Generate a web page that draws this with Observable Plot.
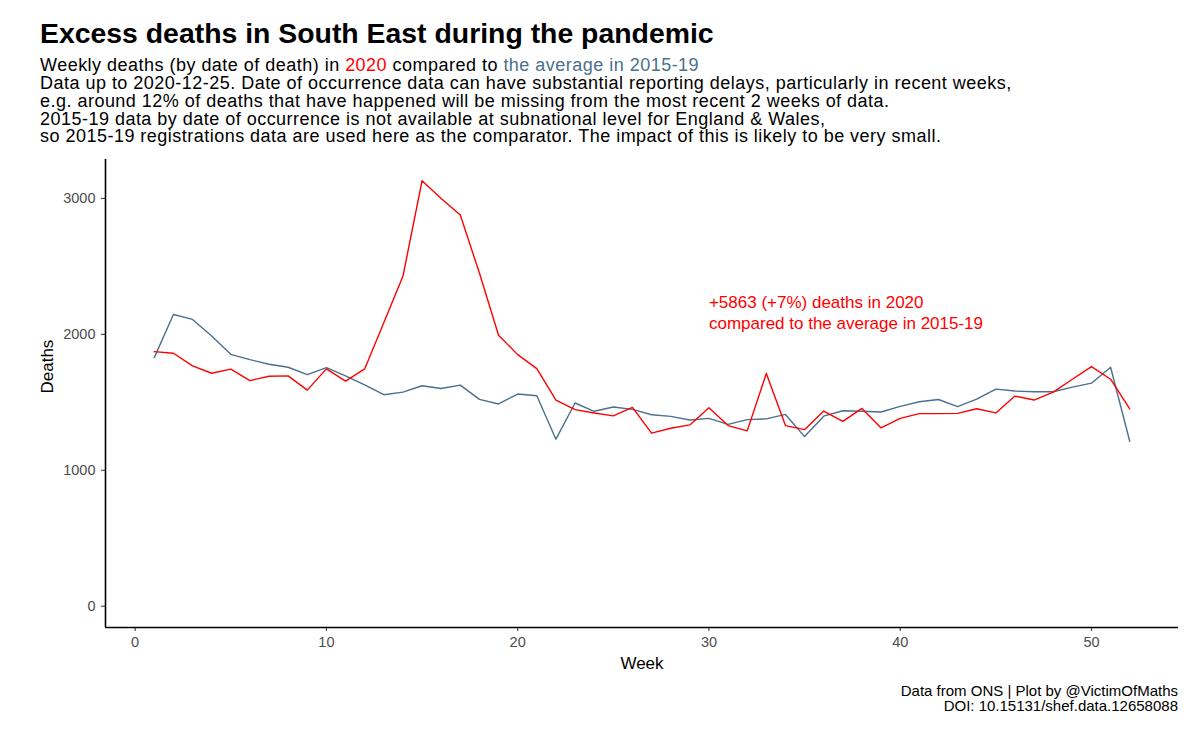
<!DOCTYPE html>
<html><head><meta charset="utf-8">
<script src="https://cdn.jsdelivr.net/npm/d3@7"></script>
<script src="https://cdn.jsdelivr.net/npm/@observablehq/plot@0.6"></script>
<style>
body{margin:0;background:#fff;font-family:"Liberation Sans",Arial,sans-serif;color:#000;}
#wrap{position:relative;width:1200px;height:738px;overflow:hidden;background:#fff;}
#title{position:absolute;left:40px;top:17.5px;font-size:28.4px;font-weight:bold;line-height:30px;white-space:nowrap;}
#subtitle{position:absolute;left:40px;top:57.2px;font-size:18px;letter-spacing:0.48px;white-space:nowrap;}
#subtitle div{height:17.8px;line-height:17.8px;}
#chart{position:absolute;left:0;top:150px;}
#caption{position:absolute;right:22px;top:682.7px;font-size:15px;text-align:right;white-space:nowrap;}
#caption div{height:15.5px;line-height:15.5px;}
</style></head><body>
<div id="wrap">
<div id="title">Excess deaths in South East during the pandemic</div>
<div id="subtitle">
<div>Weekly deaths (by date of death) in <span style="color:#FF0000">2020</span> compared to <span style="color:#4A708B">the average in 2015-19</span></div>
<div>Data up to 2020-12-25. Date of occurrence data can have substantial reporting delays, particularly in recent weeks,</div>
<div>e.g. around 12% of deaths that have happened will be missing from the most recent 2 weeks of data.</div>
<div>2015-19 data by date of occurrence is not available at subnational level for England &amp; Wales,</div>
<div>so 2015-19 registrations data are used here as the comparator. The impact of this is likely to be very small.</div>
</div>
<div id="chart"></div>
<div id="caption"><div>Data from ONS | Plot by @VictimOfMaths</div><div>DOI: 10.15131/shef.data.12658088</div></div>
</div>
<script>
const weeks = [1,2,3,4,5,6,7,8,9,10,11,12,13,14,15,16,17,18,19,20,21,22,23,24,25,26,27,28,29,30,31,32,33,34,35,36,37,38,39,40,41,42,43,44,45,46,47,48,49,50,51,52];
const deaths2020 = [1873,1861,1768,1714,1744,1660,1692,1695,1590,1746,1656,1746,2085,2427,3130,3000,2878,2451,1993,1851,1748,1517,1446,1422,1400,1463,1273,1309,1334,1460,1329,1290,1712,1329,1299,1436,1360,1455,1312,1382,1417,1417,1419,1453,1422,1546,1517,1575,1670,1763,1670,1451];
const avg1519 = [1829,2146,2110,1988,1853,1814,1780,1758,1704,1755,1695,1629,1556,1575,1622,1602,1627,1522,1488,1561,1548,1229,1495,1434,1466,1448,1409,1397,1370,1382,1338,1373,1378,1411,1248,1398,1438,1434,1429,1470,1504,1521,1468,1524,1597,1583,1578,1578,1612,1641,1758,1214];
const xTicks = [0,10,20,30,40,50];
const yTicks = [0,1000,2000,3000];
const annotationText = ["+5863 (+7%) deaths in 2020\ncompared to the average in 2015-19"];
const annotationWeek = [30];
const annotationDeaths = [2165];

const red = "#FF0000", grey = "#4A708B";
const rows2020 = weeks.map((w,i)=>({week:w, deaths:deaths2020[i]}));
const rowsAvg = weeks.map((w,i)=>({week:w, deaths:avg1519[i]}));
const annot = annotationText.map((t,i)=>({text:t, week:annotationWeek[i], deaths:annotationDeaths[i]}));

const xMin = d3.min(weeks), xMax = d3.max(weeks);
const yMax = d3.max([...deaths2020, ...avg1519]);
const xPad = (xMax - xMin) * 0.05, yPad = yMax * 0.05;
const xDomain = [xMin - xPad, xMax + xPad];
const yDomain = [0 - yPad, yMax + yPad];

const plot = Plot.plot({
  width:1200, height:540,
  marginTop:9, marginBottom:63, marginLeft:105, marginRight:22,
  style:{fontFamily:"'Liberation Sans', Arial, sans-serif", background:"white", overflow:"visible"},
  x:{domain:xDomain},
  y:{domain:yDomain},
  marks:[
    Plot.axisX({ticks:xTicks, tickSize:4, tickPadding:5, fontSize:14.5, color:"#4d4d4d", strokeWidth:1.2, label:null, tickFormat:d=>String(d)}),
    Plot.axisY({ticks:yTicks, tickSize:4, tickPadding:6, fontSize:14.5, color:"#4d4d4d", strokeWidth:1.2, label:null, tickFormat:d=>String(d)}),
    Plot.ruleY([yDomain[0]], {stroke:"black", strokeWidth:1.6}),
    Plot.ruleX([xDomain[0]], {stroke:"black", strokeWidth:1.6}),
    Plot.lineY(rowsAvg, {x:"week", y:"deaths", stroke:grey, strokeWidth:1.4}),
    Plot.lineY(rows2020, {x:"week", y:"deaths", stroke:red, strokeWidth:1.4}),
    Plot.text(annot, {x:"week", y:"deaths", text:"text", textAnchor:"start", lineAnchor:"middle", fill:red, fontSize:17, lineHeight:1.2}),
    Plot.text(["Week"], {text:d=>d, frameAnchor:"bottom", dy:36, fontSize:17, fill:"black", lineAnchor:"middle"}),
    Plot.text(["Deaths"], {text:d=>d, frameAnchor:"left", dx:-58, rotate:-90, fontSize:17, fill:"black", lineAnchor:"middle"})
  ]
});
document.getElementById("chart").appendChild(plot);
</script>
</body></html>
